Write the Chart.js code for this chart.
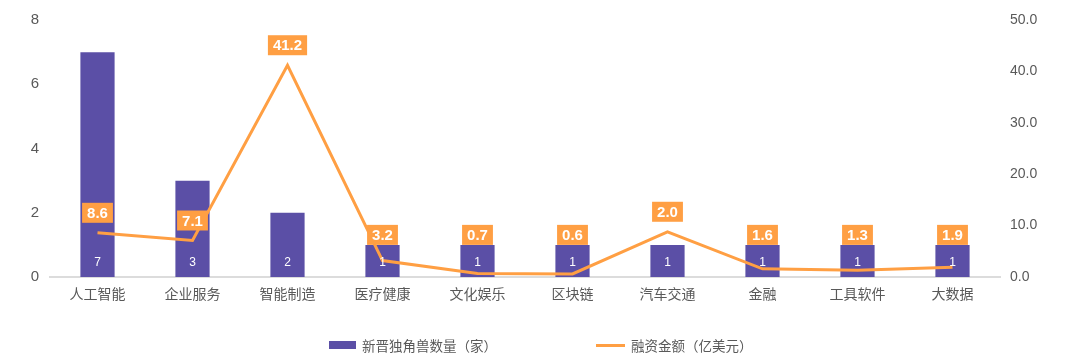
<!DOCTYPE html>
<html>
<head>
<meta charset="utf-8">
<script src="https://cdn.jsdelivr.net/npm/chart.js@4"></script>
<style>
  html, body { margin: 0; padding: 0; background: #fff; }
  #wrap { position: relative; width: 1080px; height: 363px; }
  .legend { position: absolute; top: 335px; font: 13.5px 'Liberation Sans', 'Noto Sans CJK SC', sans-serif; color: #595959; display: flex; align-items: center; }
  .legend i { display: inline-block; margin-right: 6px; }
</style>
</head>
<body>
<div id="wrap">
  <canvas id="chart" width="1080" height="363"></canvas>
  <div class="legend" style="left:329px"><i style="width:27px;height:8px;background:#5b4fa6"></i><span id="lg0"></span></div>
  <div class="legend" style="left:596px"><i style="width:29px;height:3px;background:#ff9f43"></i><span id="lg1"></span></div>
</div>
<script>
// ── DATA ─────────────────────────────────────────────
const categories = ['人工智能', '企业服务', '智能制造', '医疗健康', '文化娱乐', '区块链', '汽车交通', '金融', '工具软件', '大数据'];
const unicorns = [7, 3, 2, 1, 1, 1, 1, 1, 1, 1];
const funding = [8.6, 7.1, 41.2, 3.2, 0.7, 0.6, 8.8, 1.6, 1.3, 1.9];
const fundingLabels = ['8.6', '7.1', '41.2', '3.2', '0.7', '0.6', '2.0', '1.6', '1.3', '1.9'];
const leftTicks = [0, 2, 4, 6, 8];
const rightTicks = [0, 10, 20, 30, 40, 50];
const seriesNames = ['新晋独角兽数量（家）', '融资金额（亿美元）'];

document.getElementById('lg0').textContent = seriesNames[0];
document.getElementById('lg1').textContent = seriesNames[1];

const FONT = "'Liberation Sans', 'Noto Sans CJK SC', sans-serif";
const PURPLE = '#5b4fa6';
const ORANGE = '#ff9f43';

// value labels: white numbers at bar base, orange boxes above the line
const labelPlugin = {
  id: 'valueLabels',
  afterDatasetsDraw(chart) {
    const ctx = chart.ctx;
    const bars = chart.getDatasetMeta(0).data;
    const pts = chart.getDatasetMeta(1).data;
    ctx.save();
    ctx.textAlign = 'center';
    ctx.textBaseline = 'middle';

    ctx.font = '12px ' + FONT;
    ctx.fillStyle = '#fff';
    bars.forEach((b, i) => {
      ctx.fillText(String(unicorns[i]), b.x, b.base - 14);
    });

    ctx.font = 'bold 15px ' + FONT;
    pts.forEach((p, i) => {
      const b = bars[i];
      let anchor = p.y - 10;
      if (p.y > b.y && p.y - b.y < 40) anchor = b.y; // sit on top of short bar
      const txt = fundingLabels[i];
      const w = ctx.measureText(txt).width + 10;
      const h = 20;
      ctx.fillStyle = ORANGE;
      ctx.fillRect(p.x - w / 2, anchor - h, w, h);
      ctx.fillStyle = '#fff';
      ctx.fillText(txt, p.x, anchor - h / 2 + 1);
    });
    ctx.restore();
  }
};

new Chart(document.getElementById('chart'), {
  data: {
    labels: categories,
    datasets: [
      {
        type: 'bar',
        label: seriesNames[0],
        data: unicorns,
        yAxisID: 'y',
        backgroundColor: PURPLE,
        categoryPercentage: 1,
        barPercentage: 0.36,
        order: 2
      },
      {
        type: 'line',
        label: seriesNames[1],
        data: funding,
        yAxisID: 'y1',
        borderColor: ORANGE,
        borderWidth: 3,
        pointRadius: 0,
        tension: 0,
        order: 1
      }
    ]
  },
  options: {
    responsive: false,
    animation: false,
    layout: { padding: { top: 14 } },
    plugins: { legend: { display: false }, tooltip: { enabled: false } },
    scales: {
      x: {
        grid: { display: false, drawTicks: false },
        border: { color: '#dcdcdc', width: 2 },
        ticks: { color: '#595959', font: { family: FONT, size: 14 }, padding: 10 },
        afterFit: s => { s.height = 86; }
      },
      y: {
        position: 'left',
        min: 0, max: 8,
        afterBuildTicks: s => { s.ticks = leftTicks.map(v => ({ value: v })); },
        grid: { display: false, drawTicks: false },
        border: { display: false },
        ticks: { color: '#595959', font: { family: FONT, size: 15 }, padding: 11 },
        afterFit: s => { s.width = 50; }
      },
      y1: {
        position: 'right',
        min: 0, max: 50,
        afterBuildTicks: s => { s.ticks = rightTicks.map(v => ({ value: v })); },
        grid: { display: false, drawTicks: false },
        border: { display: false },
        ticks: { color: '#595959', font: { family: FONT, size: 14 }, padding: 10, callback: v => v.toFixed(1) },
        afterFit: s => { s.width = 80; }
      }
    }
  },
  plugins: [labelPlugin]
});
</script>
</body>
</html>
